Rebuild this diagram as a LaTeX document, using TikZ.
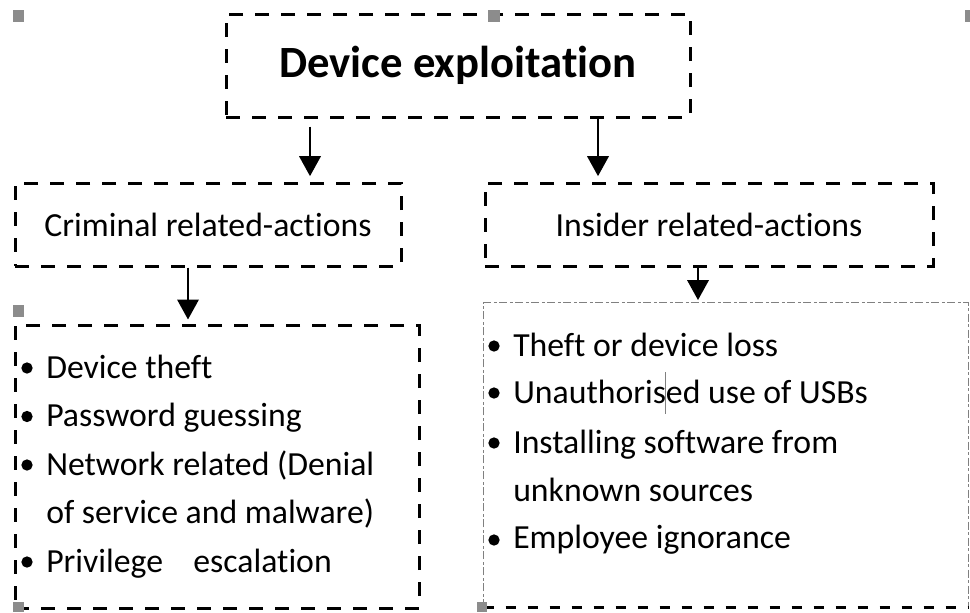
\documentclass[tikz,border=0pt]{standalone}
\usepackage{fontspec}
\setmainfont{Carlito}[Ligatures=NoCommon]
\usetikzlibrary{arrows.meta}
\begin{document}
\begin{tikzpicture}[x=0.75pt,y=-0.75pt,
  dbox/.style={draw=black,line width=2.25pt,dash pattern=on 10.5pt off 9pt,inner sep=0pt},
  arr/.style={line width=1.9pt,-{Triangle[length=15pt,width=16pt]}},
  item/.style={anchor=base west,inner sep=0pt,font=\fontsize{25.3}{30}\selectfont},
  bul/.style={circle,fill=black,inner sep=0pt,minimum size=8.5pt},
  handle/.style={fill=black!45}]
\useasboundingbox (0,0) rectangle (970,612);
% boxes
\node[dbox,minimum width=348pt,minimum height=77.25pt] (top) at (458,65.5)
  {\fontsize{33.5}{40}\selectfont\bfseries Device exploitation};
\node[dbox,minimum width=289.5pt,minimum height=62.25pt] (crim) at (208,224.5)
  {\fontsize{25.3}{30}\selectfont Criminal related-actions};
\node[dbox,minimum width=336pt,minimum height=62.25pt] (ins) at (709,224.5)
  {\fontsize{25.3}{30}\selectfont Insider related-actions};
\node[dbox,minimum width=303pt,minimum height=212.25pt] (clist) at (217,466.5) {};
\node[inner sep=0pt,minimum width=363pt,minimum height=228pt] (ilist) at (726,455) {};
\draw[black!50,line width=0.8pt,dash pattern=on 6pt off 2pt on 2pt off 2pt]
  (ilist.south west) -- (ilist.north west) -- (ilist.north east) -- (ilist.south east);
\draw[black,line width=2pt,dash pattern=on 8pt off 8.5pt] (ilist.south west) -- (ilist.south east);
% arrow columns
\coordinate (a1) at (310,0);
\coordinate (a2) at (598,0);
\coordinate (a3) at (188,0);
\coordinate (a4) at (698,0);
\draw[arr,shorten <=6pt,shorten >=4pt] (top.south -| a1) -- (crim.north -| a1);
\draw[arr,shorten >=4pt] (top.south -| a2) -- (ins.north -| a2);
\draw[arr,shorten >=3pt] (crim.south -| a3) -- (clist.north -| a3);
\draw[arr,shorten >=2pt] (ins.south -| a4) -- (ilist.north -| a4);
% criminal list
\node[bul] (cb1) at (27,368) {};
\node[bul] (cb2) at (27,416.5) {};
\node[bul] (cb3) at (27,465) {};
\node[bul] (cb4) at (27,562) {};
\node[item] (c1) at (46,378) {Device theft};
\node[item] (c2) at (46,426.5) {Password guessing};
\node[item] (c3) at (46,475) {Network related (Denial};
\node[item] (c3b) at (46,523.5) {of service and malware)};
\node[item] (c4) at (46,572) {Privilege\hspace{0.9em}escalation};
% insider list
\node[bul] (ib1) at (494,346) {};
\node[bul] (ib2) at (494,393) {};
\node[bul] (ib3) at (494,443) {};
\node[bul] (ib4) at (494,540) {};
\node[item] (i1) at (513,356) {Theft or device loss};
\node[item] (i2) at (513,403) {Unauthorised use of USBs};
\node[item] (i3) at (513,453) {Installing software from};
\node[item] (i3b) at (513,501) {unknown sources};
\node[item] (i4) at (513,548) {Employee ignorance};
% cursor
\draw[black!50,line width=0.6pt] (665,372) -- (665,414);
% selection handles
\fill[handle] (13,10) rectangle (24,22);
\fill[handle] (488,10) rectangle (500,22);
\fill[handle] (965,10) rectangle (972,22);
\fill[handle] (13,305) rectangle (24,317);
\fill[handle] (13,602) rectangle (24,612);
\fill[handle] (477,602) rectangle (487,612);
\end{tikzpicture}
\end{document}
